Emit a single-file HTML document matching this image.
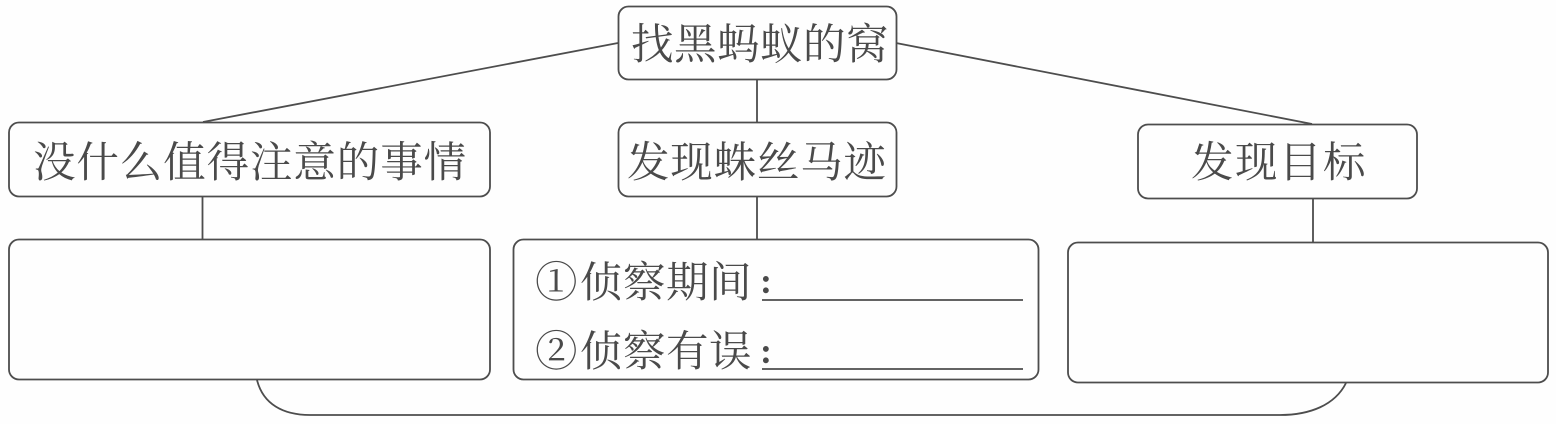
<!DOCTYPE html>
<html><head><meta charset="utf-8"><style>
html,body{margin:0;padding:0;background:#fefefe}
svg{display:block}
text{font-family:"Liberation Serif","Noto Serif CJK SC",serif;fill:#4a4a4a;font-size:42.500px}
</style></head><body>
<svg width="1556" height="424" viewBox="0 0 1556 424" xmlns="http://www.w3.org/2000/svg">
<g fill="none" stroke="#4d4d4d" stroke-width="1.8">
<rect x="618.500" y="6.500" width="278" height="73" rx="10"/>
<rect x="9" y="122.500" width="481" height="74" rx="10"/>
<rect x="618.500" y="122.500" width="278" height="74" rx="10"/>
<rect x="1138" y="124.500" width="279" height="74" rx="10"/>
<rect x="9" y="239.500" width="481" height="140" rx="10"/>
<rect x="513.500" y="239.500" width="525" height="140" rx="10"/>
<rect x="1068" y="242.500" width="480" height="140" rx="10"/>
<path d="M618 43L203 122M757 80V122M896 43L1312 124M202.500 197V239M757 197V239M1313 199V242"/>
<path d="M257 380C263 404 283 415 310 415H1280C1310 415 1335 405 1346 383"/>
<path d="M762 300H1023M762 369H1023"/>
</g>
<text x="631 674 717 760 803 846" y="59">找黑蚂蚁的窝</text>
<text x="33 76.400 119.800 163.200 206.600 250 293.400 336.800 380.200 423.600" y="177">没什么值得注意的事情</text>
<text x="627 670.300 713.600 756.900 800.200 843.500" y="177">发现蛛丝马迹</text>
<text x="1191 1235 1279 1323" y="177">发现目标</text>
<text x="535 580 623 666 709" y="297">①侦察期间</text>
<text x="535 580 623 666 709" y="366">②侦察有误</text>
<text x="760" y="293" style="font-weight:bold;font-size:36px;font-family:'Liberation Serif',serif">:</text>
<text x="760" y="363" style="font-weight:bold;font-size:36px;font-family:'Liberation Serif',serif">:</text>
</svg>
</body></html>
